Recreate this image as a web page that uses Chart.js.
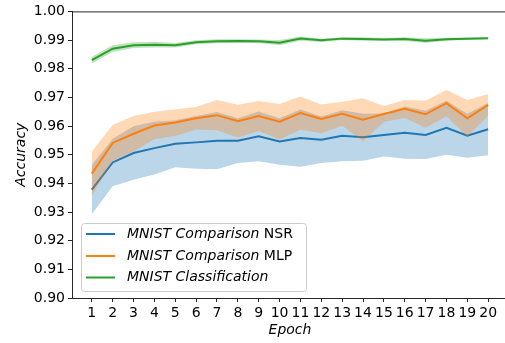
<!DOCTYPE html>
<html>
<head>
<meta charset="utf-8">
<script src="https://cdn.jsdelivr.net/npm/chart.js@4/dist/chart.umd.min.js"></script>
<style>
  html, body { margin: 0; padding: 0; background: #fff; overflow: hidden; }
  #wrap { width: 510px; height: 343px; position: relative; }
</style>
</head>
<body>
<div id="wrap"><canvas id="accChart"></canvas></div>
<script>
// epochs and y ticks
const epochs = [1, 2, 3, 4, 5, 6, 7, 8, 9, 10, 11, 12, 13, 14, 15, 16, 17, 18, 19, 20];
const yTicks = [0.90, 0.91, 0.92, 0.93, 0.94, 0.95, 0.96, 0.97, 0.98, 0.99, 1.00];

// MNIST Comparison NSR (mean, std)
const nsrMean = [0.9378, 0.9473, 0.9506, 0.9523, 0.9538, 0.9543, 0.9549, 0.9549, 0.9564, 0.9546,
                 0.9558, 0.9552, 0.9566, 0.9561, 0.9569, 0.9577, 0.9569, 0.9594, 0.9566, 0.9589];
const nsrStd  = [0.0086, 0.0083, 0.0093, 0.0092, 0.0082, 0.0092, 0.0100, 0.0078, 0.0087, 0.0081,
                 0.0100, 0.0081, 0.0089, 0.0082, 0.0075, 0.0091, 0.0084, 0.0094, 0.0077, 0.0091];

// MNIST Comparison MLP
const mlpMean = [0.9434, 0.9541, 0.9573, 0.9602, 0.9612, 0.9627, 0.9638, 0.9617, 0.9635, 0.9615,
                 0.9645, 0.9625, 0.9643, 0.9622, 0.9642, 0.9660, 0.9641, 0.9680, 0.9627, 0.9674];
const mlpStd  = [0.0076, 0.0063, 0.0062, 0.0048, 0.0047, 0.0039, 0.0053, 0.0057, 0.0052, 0.0062,
                 0.0058, 0.0050, 0.0042, 0.0075, 0.0028, 0.0031, 0.0047, 0.0046, 0.0064, 0.0038];

// MNIST Classification
const clsMean = [0.9830, 0.9870, 0.9882, 0.9884, 0.9882, 0.9892, 0.9896, 0.9897, 0.9896, 0.9891,
                 0.9905, 0.9899, 0.9905, 0.9904, 0.9902, 0.9904, 0.9898, 0.9903, 0.9905, 0.9906];
const clsStd  = [0.0012, 0.0012, 0.0010, 0.0010, 0.0008, 0.0007, 0.0007, 0.0006, 0.0006, 0.0009,
                 0.0007, 0.0006, 0.0005, 0.0006, 0.0005, 0.0006, 0.0008, 0.0005, 0.0004, 0.0003];

// legend labels: italic part + plain part
const legendItalic = ['MNIST Comparison', 'MNIST Comparison', 'MNIST Classification'];
const legendPlain  = [' NSR', ' MLP', ''];

const BLUE = '#1f77b4', ORANGE = '#ff7f0e', GREEN = '#2ca02c';
const FONT = '"DejaVu Sans", sans-serif';
const SPINE = '#262626';

function pts(arr) { return epochs.map((e, i) => ({ x: e, y: arr[i] })); }
function shifted(mean, std, sign) { return pts(mean.map((m, i) => m + sign * std[i])); }

function lineSet(label, mean, color, order) {
  return { label, data: pts(mean), borderColor: color, borderWidth: 2, pointRadius: 0,
           fill: false, tension: 0, order };
}
function bandSets(mean, std, color, order) {
  return [
    { data: shifted(mean, std, 1), borderWidth: 0, borderColor: 'rgba(0,0,0,0)', pointRadius: 0,
      backgroundColor: color, fill: '+1', tension: 0, order },
    { data: shifted(mean, std, -1), borderWidth: 0, borderColor: 'rgba(0,0,0,0)', pointRadius: 0,
      fill: false, tension: 0, order: order - 1 }
  ];
}

// top/right spines + legend box
const extras = {
  id: 'extras',
  afterDraw(chart) {
    const { ctx, chartArea: a } = chart;
    ctx.save();
    ctx.strokeStyle = SPINE;
    ctx.lineWidth = 1;
    ctx.beginPath();
    ctx.moveTo(a.left, a.top + 0.5);
    ctx.lineTo(a.right, a.top + 0.5);
    ctx.lineTo(a.right, a.bottom);
    ctx.stroke();

    // legend
    const bx = 81, by = 223, bw = 225, bh = 68, r = 3;
    ctx.fillStyle = 'rgba(255,255,255,0.8)';
    ctx.strokeStyle = '#cccccc';
    ctx.beginPath();
    ctx.roundRect(bx + 0.5, by + 0.5, bw, bh, r);
    ctx.fill();
    ctx.stroke();
    const colors = [BLUE, ORANGE, GREEN];
    const rows = [234, 256, 277.5];
    ctx.textBaseline = 'middle';
    rows.forEach((y, i) => {
      ctx.strokeStyle = colors[i];
      ctx.lineWidth = 2;
      ctx.beginPath();
      ctx.moveTo(86, y);
      ctx.lineTo(115, y);
      ctx.stroke();
      ctx.fillStyle = '#000';
      ctx.font = 'italic 14px ' + FONT;
      ctx.fillText(legendItalic[i], 127, y);
      const w = ctx.measureText(legendItalic[i]).width;
      ctx.font = '14px ' + FONT;
      ctx.fillText(legendPlain[i], 127 + w, y);
    });
    ctx.restore();
  }
};

const ctx = document.getElementById('accChart').getContext('2d');
new Chart(ctx, {
  type: 'line',
  data: {
    datasets: [
      lineSet('NSR', nsrMean, BLUE, 9),
      ...bandSets(nsrMean, nsrStd, 'rgba(31,119,180,0.3)', 8),
      lineSet('MLP', mlpMean, ORANGE, 6),
      ...bandSets(mlpMean, mlpStd, 'rgba(255,127,14,0.3)', 5),
      lineSet('Classification', clsMean, GREEN, 3),
      ...bandSets(clsMean, clsStd, 'rgba(44,160,44,0.3)', 2)
    ]
  },
  options: {
    responsive: true,
    maintainAspectRatio: false,
    animation: false,
    layout: { padding: { top: 11, right: 2, left: 0, bottom: 0 } },
    plugins: {
      legend: { display: false },
      tooltip: { enabled: false },
      filler: { drawTime: 'beforeDatasetDraw' }
    },
    scales: {
      x: {
        type: 'linear',
        min: 0.05,
        max: 20.95,
        afterBuildTicks: s => { s.ticks = epochs.map(v => ({ value: v })); },
        afterFit: s => { s.height = 45; },
        grid: { drawOnChartArea: false, drawTicks: true, tickLength: 4, color: SPINE },
        border: { display: true, color: SPINE, width: 1 },
        ticks: { color: '#000', padding: 3, maxRotation: 0, autoSkip: false,
                 font: { family: FONT, size: 14 }, callback: v => String(v) },
        title: { display: true, text: 'Epoch', color: '#000', padding: { top: 0, bottom: 4.6 },
                 font: { family: FONT, size: 14, style: 'italic' } }
      },
      y: {
        min: 0.90,
        max: 1.00,
        afterBuildTicks: s => { s.ticks = yTicks.map(v => ({ value: v })); },
        afterFit: s => { s.width = 72; },
        grid: { drawOnChartArea: false, drawTicks: true, tickLength: 4, color: SPINE },
        border: { display: true, color: SPINE, width: 1 },
        ticks: { color: '#000', padding: 3, font: { family: FONT, size: 14 },
                 callback: v => Number(v).toFixed(2) },
        title: { display: true, text: 'Accuracy', color: '#000', padding: { top: 13.3, bottom: 0 },
                 font: { family: FONT, size: 14, style: 'italic' } }
      }
    }
  },
  plugins: [extras]
});
</script>
</body>
</html>
